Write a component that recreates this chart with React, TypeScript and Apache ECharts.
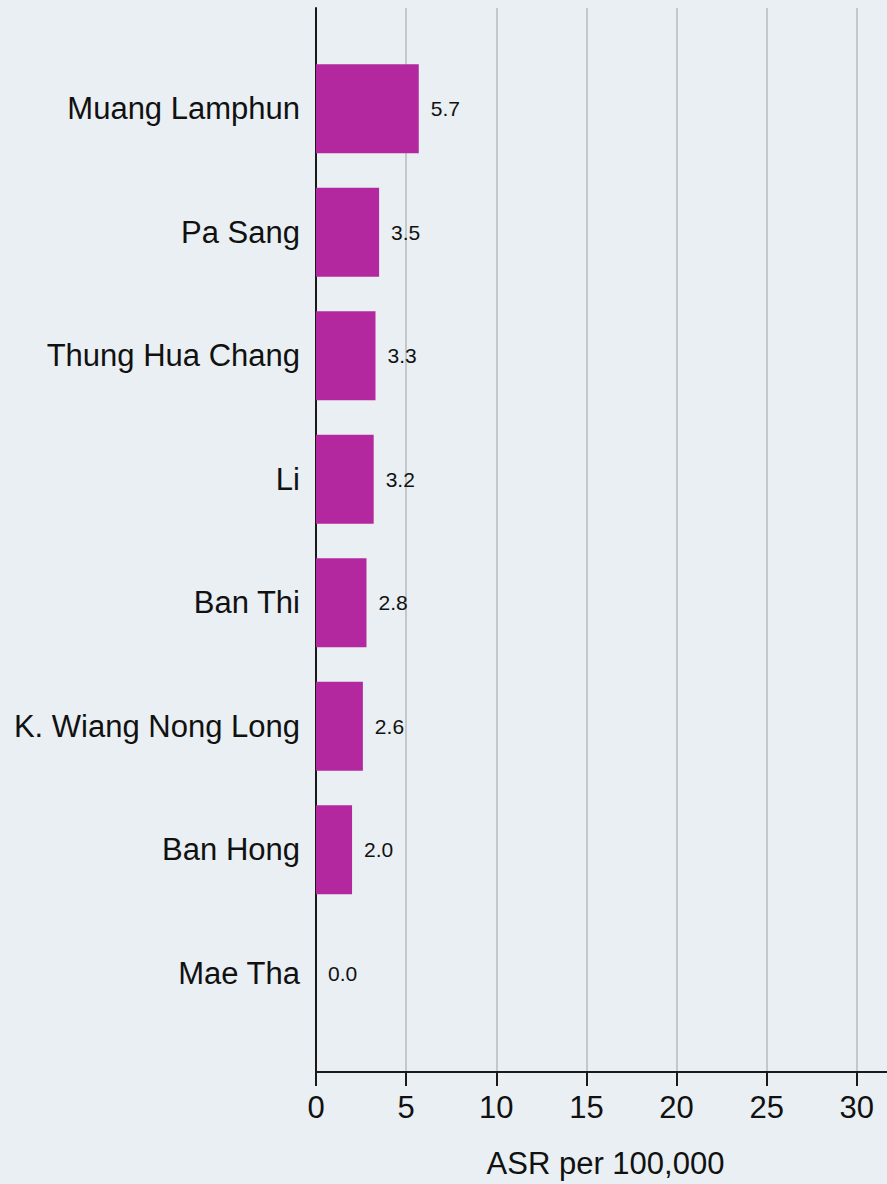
import React, { useEffect, useRef } from "react";
import * as echarts from "echarts";

const categories = [
  "Muang Lamphun",
  "Pa Sang",
  "Thung Hua Chang",
  "Li",
  "Ban Thi",
  "K. Wiang Nong Long",
  "Ban Hong",
  "Mae Tha",
];
const asrValues = [5.7, 3.5, 3.3, 3.2, 2.8, 2.6, 2.0, 0.0];
const xTickStep = 5;
const xAxisTitle = "ASR per 100,000";

const FONT = '"Liberation Sans", Arial, Helvetica, sans-serif';

export default function App() {
  const ref = useRef<HTMLDivElement>(null);
  useEffect(() => {
    if (!ref.current) return;
    const chart = echarts.init(ref.current, undefined, { renderer: "svg" });
    chart.setOption({
      animation: false,
      backgroundColor: "#e9eff2",
      grid: [
        { left: 316, right: -60, top: 8, bottom: 112, outerBoundsMode: "none", containLabel: false },
        { left: 316, right: -60, top: 47, bottom: 149, outerBoundsMode: "none", containLabel: false },
      ],
      xAxis: [
        {
          type: "value",
          gridIndex: 0,
          min: 0,
          max: 35,
          interval: xTickStep,
          name: xAxisTitle,
          nameLocation: "middle",
          nameGap: 76,
          nameTextStyle: {
            fontFamily: FONT,
            fontSize: 31,
            color: "#111",
            padding: [0, 52, 0, 0],
          },
          axisLine: { show: true, lineStyle: { color: "#1a1a1a", width: 2 } },
          axisTick: { show: true, length: 14, lineStyle: { color: "#1a1a1a", width: 2 } },
          axisLabel: {
            margin: 20,
            fontFamily: FONT,
            fontSize: 31,
            color: "#111",
            showMaxLabel: false,
          },
          splitLine: { show: true, lineStyle: { color: "#c3c8cb", width: 2 } },
        },
        {
          type: "value",
          gridIndex: 1,
          min: 0,
          max: 35,
          show: false,
          splitLine: { show: false },
        },
      ],
      yAxis: [
        {
          type: "value",
          gridIndex: 0,
          min: 0,
          max: 1,
          axisLine: { show: true, lineStyle: { color: "#1a1a1a", width: 2 } },
          axisTick: { show: false },
          axisLabel: { show: false },
          splitLine: { show: false },
        },
        {
          type: "category",
          gridIndex: 1,
          data: categories,
          inverse: true,
          axisLine: { show: false },
          axisTick: { show: false },
          splitLine: { show: false },
          axisLabel: {
            margin: 16,
            fontFamily: FONT,
            fontSize: 31,
            color: "#111",
          },
        },
      ],
      series: [
        {
          type: "bar",
          xAxisIndex: 1,
          yAxisIndex: 1,
          data: asrValues,
          barWidth: "72%",
          itemStyle: { color: "#b4289f" },
          label: {
            show: true,
            position: "right",
            distance: 12,
            fontFamily: FONT,
            fontSize: 21,
            color: "#111",
            formatter: (p: any) => Number(p.value).toFixed(1),
          },
        },
      ],
    });
    return () => chart.dispose();
  }, []);
  return (
    <div
      ref={ref}
      style={{ position: "absolute", left: 0, top: 0, width: 887, height: 1184 }}
    />
  );
}
